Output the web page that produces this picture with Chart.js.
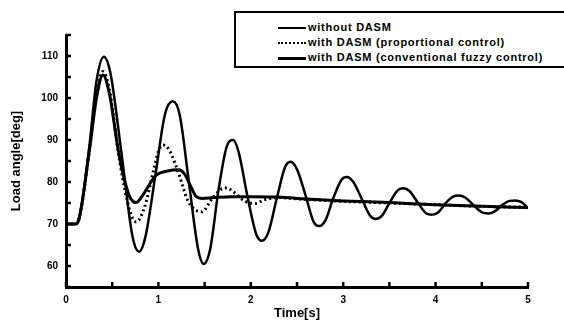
<!DOCTYPE html>
<html>
<head>
<meta charset="utf-8">
<script src="https://cdn.jsdelivr.net/npm/chart.js@4/dist/chart.umd.min.js"></script>
<style>
  html, body { margin: 0; padding: 0; background: #fff; }
  #wrap { position: relative; width: 564px; height: 325px; overflow: hidden; }
  canvas { position: absolute; left: 0; top: 0; }
  #legend {
    position: absolute; left: 234px; top: 11px; width: 340px; height: 57px;
    border: 2px solid #000; background: #fff; box-sizing: border-box;
    font-family: "Liberation Sans", Arial, sans-serif; font-weight: bold; font-size: 11px;
    letter-spacing: 0.75px; color: #000;
  }
  .row { position: absolute; left: 42px; height: 14px; line-height: 14px; white-space: nowrap; }
  .smp { display: inline-block; width: 28px; height: 0; vertical-align: middle; margin-right: 2px; }
</style>
</head>
<body>
<div id="wrap">
  <canvas id="c" width="564" height="325"></canvas>
  <div id="legend">
    <div class="row" style="top:7px"><span class="smp" style="border-top:2px solid #000"></span>without DASM</div>
    <div class="row" style="top:22px"><span class="smp" style="border-top:2px dotted #000"></span>with DASM (proportional control)</div>
    <div class="row" style="top:37px"><span class="smp" style="border-top:3px solid #000"></span>with DASM (conventional fuzzy control)</div>
  </div>
</div>
<script>
// ---- data ----
const timeWithout = [0,0.1,0.13,0.25,0.33,0.41,0.48,0.6,0.72,0.79,0.86,0.97,1.07,1.155,1.23,1.33,1.43,1.49,1.56,1.65,1.74,1.81,1.87,1.96,2.06,2.12,2.19,2.28,2.37,2.43,2.5,2.59,2.68,2.74,2.81,2.89,2.98,3.04,3.11,3.2,3.29,3.35,3.42,3.5,3.59,3.65,3.72,3.81,3.9,3.96,4.03,4.11,4.19,4.25,4.32,4.41,4.5,4.57,4.64,4.72,4.8,4.86,4.93,5.0];
const loadWithout = [70,70,70.5,88,104,109.8,106,87,67,63.4,67,82,96,99.2,96,80,64,60.5,64,78,88.5,90,87,77,67.5,66,68,76,83.5,84.8,83,77,70.5,69.5,71,76,80.5,81.2,80,76,72,71.2,72,75,78,78.5,77.8,75,72.5,72.2,72.8,75,76.5,76.8,76.3,74.5,72.8,72.5,73,74.5,75.5,75.6,75.2,73.8];

const timeProp = [0,0.1,0.13,0.25,0.33,0.4,0.47,0.58,0.7,0.76,0.85,0.95,1.0,1.05,1.12,1.22,1.32,1.47,1.58,1.68,1.74,1.82,1.93,2.05,2.15,2.3,2.5,3.0,3.5,4.0,4.5,5.0];
const loadProp = [70,70,70.5,87,101,106.3,102,85,72.5,70.5,74,83,87.3,88.8,87.5,82,75.5,72.9,76,78.3,78.6,77.5,75.5,74.9,75.8,76.3,76,75.4,75,74.6,74.2,74];

const timeFuzzy = [0,0.1,0.13,0.25,0.33,0.4,0.47,0.57,0.68,0.758,0.82,0.92,0.98,1.1,1.215,1.28,1.36,1.41,1.47,1.6,1.8,2.0,2.28,2.5,3.0,3.5,4.0,4.5,5.0];
const loadFuzzy = [70,70,70.5,87,100,105.5,101,87,77,75.1,76.5,80,81.7,82.6,82.9,82,78.5,76.5,76.1,76.3,76.5,76.5,76.4,76.1,75.5,75.1,74.6,74.2,73.9];

const xMin = 0, xMax = 5, xStep = 0.5;
const yMin = 55, yMax = 115, yStep = 5;
const xTitle = 'Time[s]';
const yTitle = 'Load angle[deg]';
const seriesNames = ['without DASM', 'with DASM (proportional control)', 'with DASM (conventional fuzzy control)'];

const pts = (xs, ys) => xs.map((x, i) => ({ x: x, y: ys[i] }));

// inward ticks drawn from the library's own scales
const inwardTicks = {
  id: 'inwardTicks',
  afterDraw(chart) {
    const ctx = chart.ctx, a = chart.chartArea;
    ctx.save();
    ctx.strokeStyle = '#000';
    ctx.lineWidth = 2.5;
    const xs = chart.scales.x, ys = chart.scales.y;
    xs.ticks.forEach(t => {
      const px = xs.getPixelForValue(t.value);
      ctx.beginPath(); ctx.moveTo(px, a.bottom); ctx.lineTo(px, a.bottom - 5); ctx.stroke();
    });
    ys.ticks.forEach(t => {
      const py = ys.getPixelForValue(t.value);
      ctx.beginPath(); ctx.moveTo(a.left, py); ctx.lineTo(a.left + 5, py); ctx.stroke();
    });
    ctx.restore();
  }
};

const font = { family: '"Liberation Sans", Arial, sans-serif', weight: 'bold' };

new Chart(document.getElementById('c'), {
  type: 'line',
  data: {
    datasets: [
      { label: seriesNames[0], data: pts(timeWithout, loadWithout), borderColor: '#000', borderWidth: 2.5, pointRadius: 0, cubicInterpolationMode: 'monotone' },
      { label: seriesNames[1], data: pts(timeProp, loadProp), borderColor: '#000', borderWidth: 3, borderDash: [2, 3], pointRadius: 0, cubicInterpolationMode: 'monotone' },
      { label: seriesNames[2], data: pts(timeFuzzy, loadFuzzy), borderColor: '#000', borderWidth: 3, pointRadius: 0, cubicInterpolationMode: 'monotone' }
    ]
  },
  options: {
    responsive: false,
    animation: false,
    devicePixelRatio: 1,
    layout: { padding: { left: 0, right: 36, top: 35, bottom: 0 } },
    plugins: { legend: { display: false }, tooltip: { enabled: false } },
    scales: {
      x: {
        type: 'linear', min: xMin, max: xMax,
        afterFit(s) { s.height = 38; },
        border: { color: '#000', width: 3 },
        grid: { display: true, drawOnChartArea: false, drawTicks: false },
        ticks: {
          stepSize: xStep, color: '#000', padding: 7, maxRotation: 0, autoSkip: false,
          font: Object.assign({ size: 10 }, font),
          callback: v => (Math.abs(v - Math.round(v)) < 1e-6 ? String(Math.round(v)) : '')
        },
        title: { display: true, text: xTitle, color: '#000', font: Object.assign({ size: 13 }, font), padding: { top: 0, bottom: 4 } }
      },
      y: {
        type: 'linear', min: yMin, max: yMax,
        afterFit(s) { s.width = 66; },
        border: { color: '#000', width: 3 },
        grid: { display: true, drawOnChartArea: false, drawTicks: false },
        ticks: {
          stepSize: yStep, color: '#000', padding: 8, autoSkip: false,
          font: Object.assign({ size: 10 }, font),
          callback: v => (v % 10 === 0 ? String(v) : '')
        },
        title: { display: true, text: yTitle, color: '#000', font: Object.assign({ size: 13 }, font), padding: { top: 9, bottom: 0 } }
      }
    }
  },
  plugins: [inwardTicks]
});
</script>
</body>
</html>
